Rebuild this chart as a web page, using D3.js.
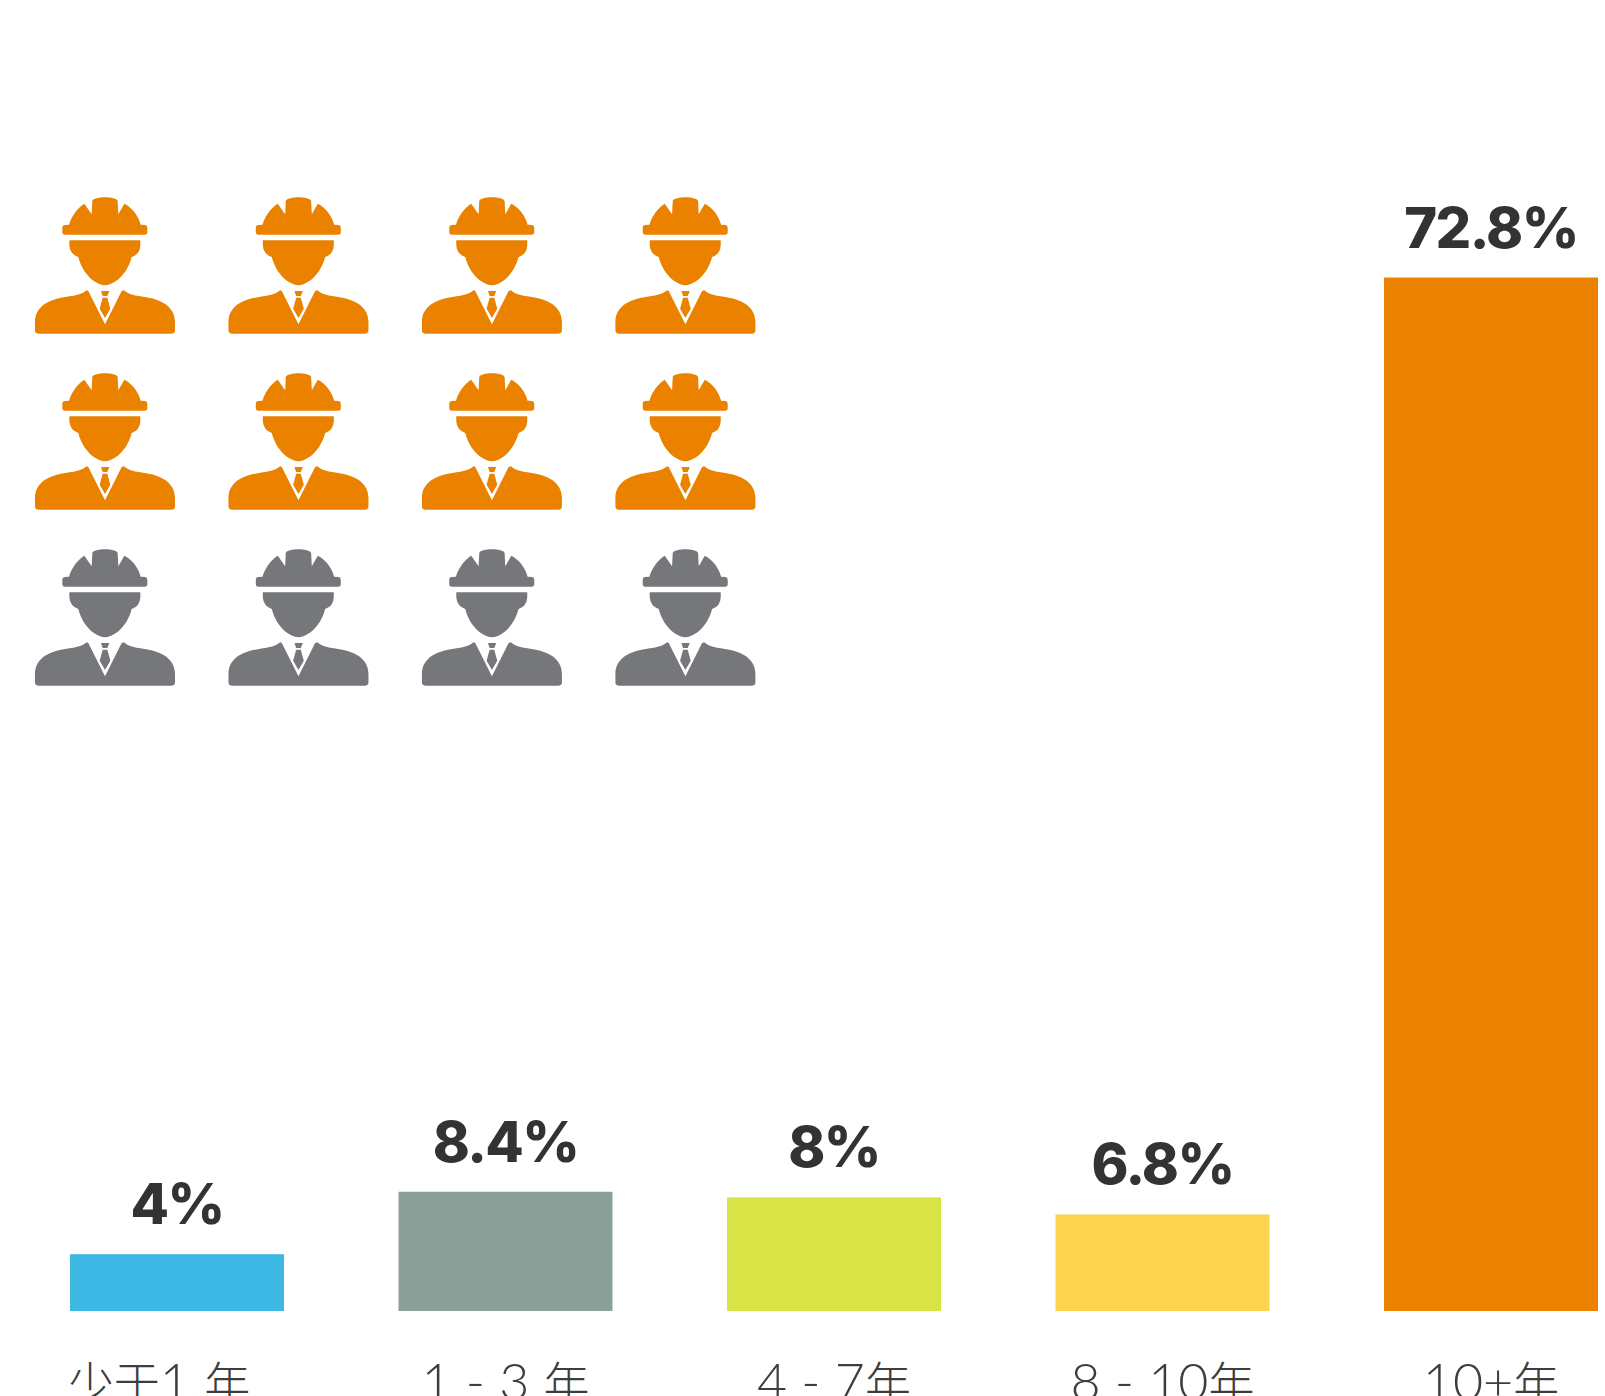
<!DOCTYPE html>
<html lang="zh">
<head>
<meta charset="utf-8">
<script src="https://cdn.jsdelivr.net/npm/d3@7/dist/d3.min.js"></script>
<style>
html,body{margin:0;padding:0;background:#fff;overflow:hidden}
svg{display:block}
.val{font-family:Inter,"Noto Sans",sans-serif;font-weight:800;fill:#333;text-anchor:middle;letter-spacing:-1.6px}
.cat{font-family:Lato,"Noto Sans CJK SC",sans-serif;font-weight:300;fill:#3d3d3d;text-anchor:middle}
.cjk{font-family:"Noto Sans CJK SC",sans-serif;font-weight:300;font-size:46px}
.lat{font-family:Lato,sans-serif;font-weight:300;font-size:52px}
</style>
</head>
<body>
<svg id="c" width="1605" height="1396"></svg>
<script>
const categories = ["少于1 年", "1 - 3 年", "4 - 7年", "8 - 10年", "10+年"];
const values = [4, 8.4, 8, 6.8, 72.8];
const valueLabels = ["4%", "8.4%", "8%", "6.8%", "72.8%"];
const barColors = ["#3DB7E4", "#8AA098", "#D8E345", "#FDD24F", "#EA8200"];
const iconRows = [0, 1, 2];
const iconCols = [0, 1, 2, 3];
const rowColors = ["#EA8200", "#EA8200", "#76777A"];

const svg = d3.select("#c");
const baseY = 1311;
const x = d3.scaleBand().domain(categories).range([70, 1598]).paddingInner(0.3486).paddingOuter(0);
const y = d3.scaleLinear().domain([0, 72.8]).range([baseY, 277.5]);

const helmet = "M127,142Q127,134 135,134L147,133C155,105 175,80 193,70L215,102L217,62C222,47 288,47 293,62L295,102L313,70C335,80 355,105 362,133L375,134Q382,135 382,142L382,155Q382,163 374,163L135,163Q127,163 127,155Z";
const face = "M148,180L361,180L361,195Q360,222 335,230C325,270 295,310 255,315C215,310 185,270 175,230Q150,222 148,195Z";
const body = "M45,450L45,425C45,385 75,365 110,355C145,347 180,348 200,330L205,332L255,432L305,332L312,330C330,348 365,347 400,355C435,365 465,385 465,425L465,450Q465,460 455,460L55,460Q45,460 45,450Z";
const tie = "M243,332L268,332L262,347L248,347ZM248,352L262,352L271,385L255,413L239,385Z";
const iconPath = [helmet, face, body, tie].join("");

const col = d3.scalePoint().domain(iconCols).range([105, 685.4]);
const row = d3.scalePoint().domain(iconRows).range([197, 549]);

iconRows.forEach(r => iconCols.forEach(c => {
  svg.append("path")
    .attr("d", iconPath)
    .attr("fill", rowColors[r])
    .attr("transform", `translate(${col(c) - 85},${row(r) - 16.67}) scale(${1/3})`);
}));

svg.selectAll("rect.bar").data(values).join("rect")
  .attr("class", "bar")
  .attr("x", (d, i) => x(categories[i]))
  .attr("width", x.bandwidth())
  .attr("y", d => y(d))
  .attr("height", d => baseY - y(d))
  .attr("fill", (d, i) => barColors[i]);

svg.selectAll("text.val").data(values).join("text")
  .attr("class", "val")
  .attr("font-size", 56)
  .attr("x", (d, i) => x(categories[i]) + x.bandwidth() / 2)
  .attr("y", d => y(d) - 30)
  .text((d, i) => valueLabels[i]);

svg.selectAll("text.cat").data(categories).join("text")
  .attr("class", "cat")
  .attr("x", (d, i) => x(d) + x.bandwidth() / 2 + (i === 0 ? -18 : 0))
  .attr("y", 1400)
  .each(function(d) {
    const t = d3.select(this);
    d.split(/([\u4e00-\u9fff]+)/).filter(s => s).forEach(s => {
      t.append("tspan")
        .attr("class", /[\u4e00-\u9fff]/.test(s) ? "cjk" : "lat")
        .attr("xml:space", "preserve")
        .text(s);
    });
  });
</script>
</body>
</html>
